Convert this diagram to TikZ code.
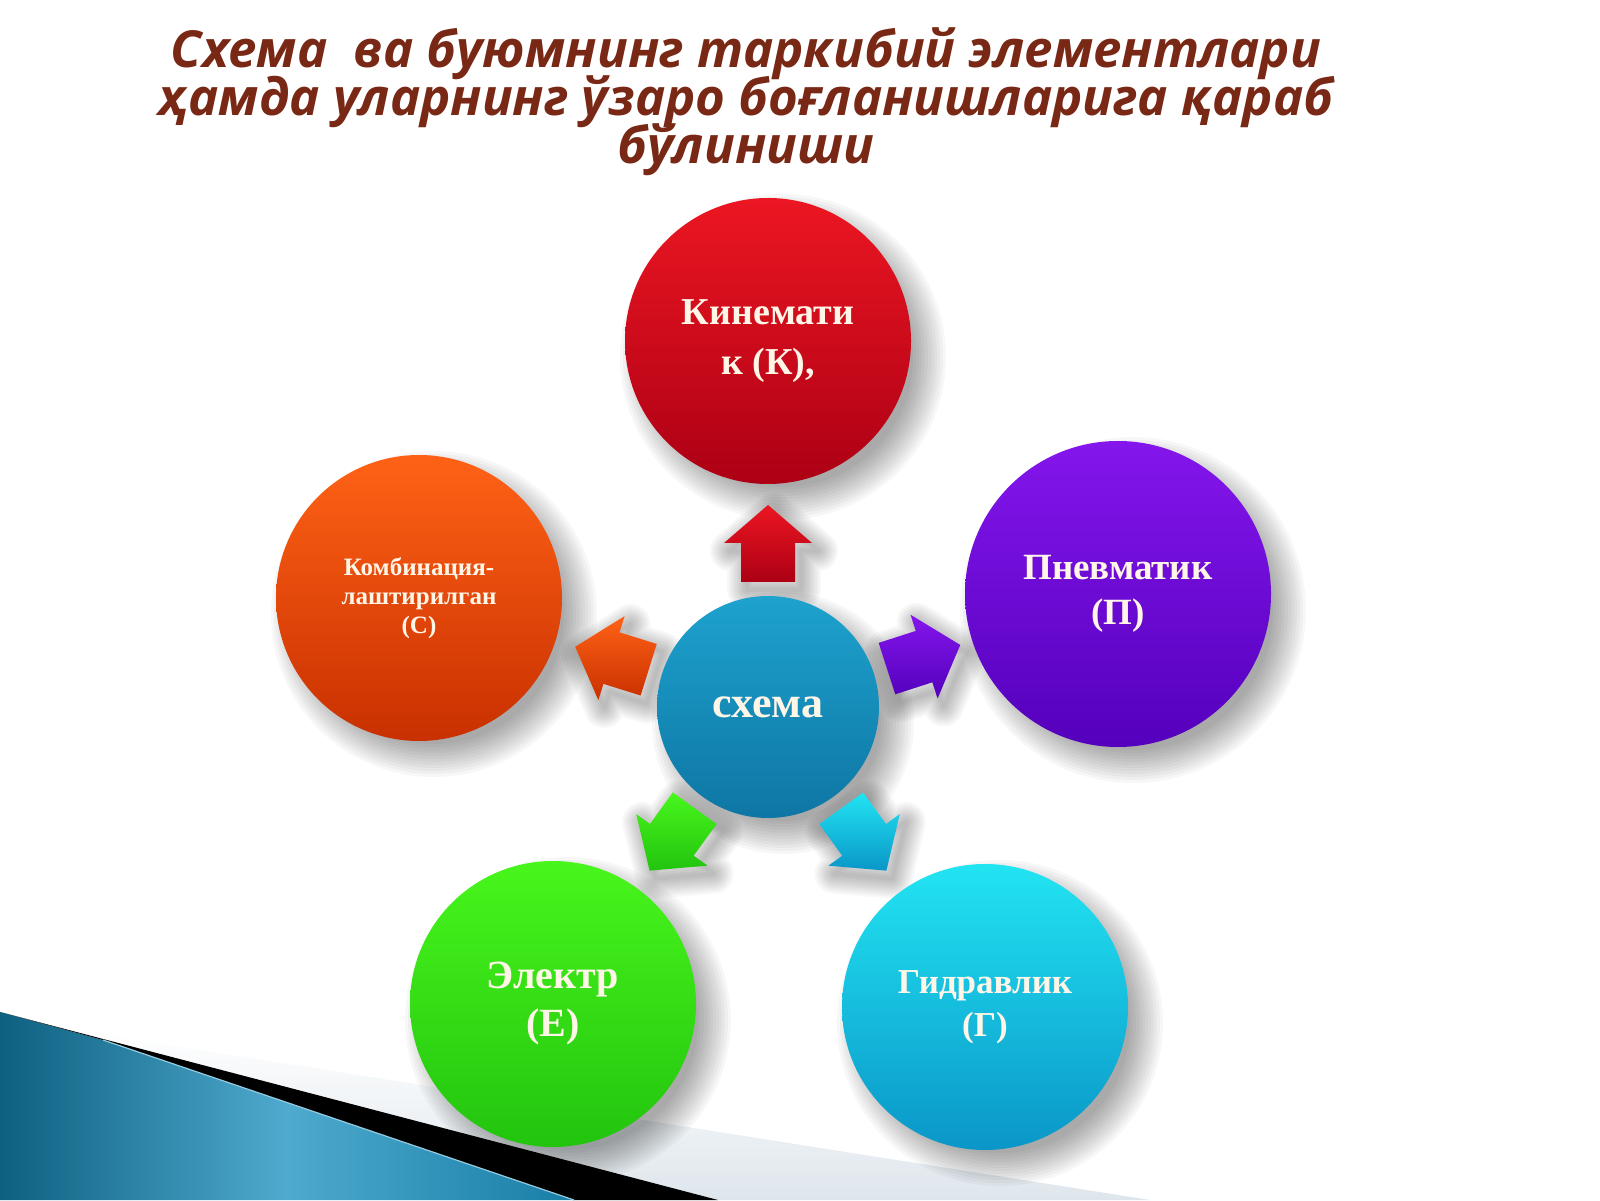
\documentclass[tikz,border=0pt]{standalone}
\usepackage{fontspec}
\setmainfont{Liberation Serif}
\newfontfamily\titlefont{Open Sans}
\newcommand\titlesetup{\titlefont\bfseries\itshape\fontsize{51}{48}\selectfont\lineskiplimit=-60pt\relax}
\usetikzlibrary{calc}
\pgfdeclarelayer{bg}
\pgfdeclarelayer{shad}
\pgfsetlayers{bg,shad,main}
\definecolor{titleC}{RGB}{120,40,20}
\definecolor{txtC}{RGB}{255,246,232}
\definecolor{kT}{RGB}{236,22,34}\definecolor{kB}{RGB}{172,0,20}
\definecolor{pT}{RGB}{132,22,236}\definecolor{pB}{RGB}{84,0,188}
\definecolor{oT}{RGB}{255,98,22}\definecolor{oB}{RGB}{200,48,0}
\definecolor{eT}{RGB}{72,246,28}\definecolor{eB}{RGB}{34,196,14}
\definecolor{gT}{RGB}{34,228,242}\definecolor{gB}{RGB}{10,150,200}
\definecolor{cT}{RGB}{30,162,206}\definecolor{cB}{RGB}{14,118,164}
\definecolor{blueL}{RGB}{14,96,128}\definecolor{blueM}{RGB}{78,170,206}\definecolor{blueR}{RGB}{24,126,166}
\definecolor{wedgeC}{RGB}{222,230,236}
\tikzset{
  ball/.style={circle, inner sep=0pt, text=txtC, align=center},
  shadowfill/.style={black, opacity=0.03}
}
\newcommand\softshadow[2]{%
  \foreach \k in {1,...,12}{%
    \fill[shadowfill] ([shift={(15pt,-16pt)}]#1.center) circle[radius={(#2-16+3*\k)*1pt}];}}
\newcommand\arrowpath[1]{%
  ($(C.center)!125pt!(#1.center)!27pt!90:(#1.center)$) --
  ($(C.center)!164pt!(#1.center)!27pt!90:(#1.center)$) --
  ($(C.center)!164pt!(#1.center)!44pt!90:(#1.center)$) --
  ($(C.center)!202pt!(#1.center)$) --
  ($(C.center)!164pt!(#1.center)!44pt!-90:(#1.center)$) --
  ($(C.center)!164pt!(#1.center)!27pt!-90:(#1.center)$) --
  ($(C.center)!125pt!(#1.center)!27pt!-90:(#1.center)$) -- cycle}
\newcommand\blockarrow[3]{%
  \begin{pgfonlayer}{shad}
    \foreach \k in {1,...,10}{%
      \draw[black, opacity=0.026, line width=\k*4pt, line join=round,
        transform canvas={shift={(6pt,-8pt)}}] \arrowpath{#1};}
  \end{pgfonlayer}
  \shade[top color=#2, bottom color=#3] \arrowpath{#1};}
\begin{document}
\begin{tikzpicture}[x=1pt,y=1pt]
\useasboundingbox (0,0) rectangle (1600,1200);
\begin{pgfonlayer}{bg}
  \fill[white] (0,0) rectangle (1600,1200);
  \shade[top color=white, bottom color=wedgeC] (60,172) -- (1150,0) -- (718,0) -- cycle;
  \shade[left color=blueL, right color=blueR, middle color=blueM]
    (0,188) -- (103,160) -- (574,0) -- (0,0) -- cycle;
  \fill[black] (0,188) -- (718,0) -- (574,0) -- (103,160) -- cycle;
  \draw[blueM!60!white, line width=1.2pt] (103,160) -- (574,0);
\end{pgfonlayer}

% title
\node[font=\titlesetup, text=titleC, align=center]
  (T) at (746,1098) {Схема\ \ ва буюмнинг таркибий элементлари\\ҳамда уларнинг ўзаро боғланишларига қараб\\бўлиниши};

% circles
\node[ball, minimum size=222pt, top color=cT, bottom color=cB,
  font=\bfseries\fontsize{44}{50}\selectfont] (C) at (768,493) {схема};
\node[ball, minimum size=286pt, top color=kT, bottom color=kB,
  font=\bfseries\fontsize{38}{50}\selectfont] (K) at (768,859) {Кинемати\\к (К),};
\node[ball, minimum size=306pt, top color=pT, bottom color=pB,
  font=\bfseries\fontsize{37}{45}\selectfont] (P) at (1118,606) {Пневматик\\(П)};
\node[ball, minimum size=286pt, top color=oT, bottom color=oB,
  font=\bfseries\fontsize{25}{29}\selectfont] (S) at (419,602) {Комбинация-\\лаштирилган\\(С)};
\node[ball, minimum size=286pt, top color=eT, bottom color=eB,
  font=\bfseries\fontsize{40}{48}\selectfont] (E) at (553,196) {Электр\\(Е)};
\node[ball, minimum size=286pt, top color=gT, bottom color=gB,
  font=\bfseries\fontsize{35}{43}\selectfont] (G) at (985,193) {Гидравлик\\(Г)};

\begin{pgfonlayer}{shad}
  \softshadow{C}{111}
  \softshadow{K}{143}
  \softshadow{P}{153}
  \softshadow{S}{143}
  \softshadow{E}{143}
  \softshadow{G}{143}
\end{pgfonlayer}

% arrows from the centre to each circle
\blockarrow{K}{kT}{kB}
\blockarrow{P}{pT}{pB}
\blockarrow{S}{oT}{oB}
\blockarrow{E}{eT}{eB}
\blockarrow{G}{gT}{gB}
\end{tikzpicture}
\end{document}
